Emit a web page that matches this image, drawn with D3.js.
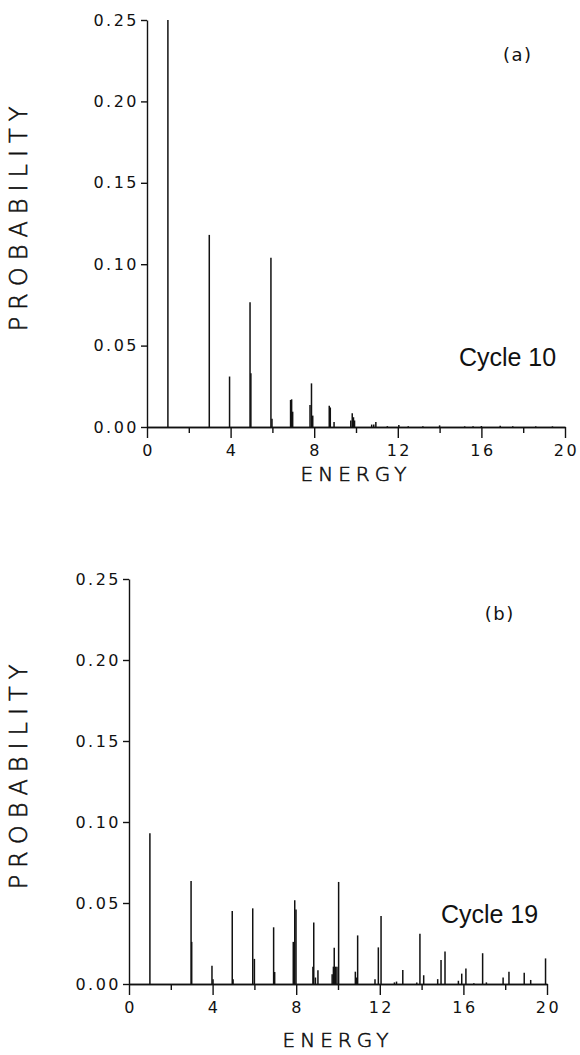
<!DOCTYPE html>
<meta charset="utf-8">
<style>
body { margin: 0; background: #fff; }
svg { display: block; background: #fff; }
.axis path, .axis line { stroke: #111; stroke-width: 1.4px; }
.axis text {
  font-family: "DejaVu Sans", sans-serif;
  font-size: 16px;
  letter-spacing: 2.5px;
  fill: #111;
}
.title {
  font-family: "DejaVu Sans", sans-serif;
  font-weight: 200;
  fill: #111;
  stroke: #111;
  stroke-width: 0.6px;
}
.tag {
  font-family: "DejaVu Sans", sans-serif;
  font-size: 18px;
  letter-spacing: 1.5px;
  fill: #111;
}
.cycle {
  font-family: "Liberation Sans", Arial, sans-serif;
  font-size: 25px;
  fill: #111;
}
.bar { stroke: #111; stroke-width: 1.5px; }
</style>
<svg id="chart"></svg>
<script src="https://d3js.org/d3.v7.min.js"></script>
<script>

// cycle 10
let energyA = [1.0, 2.98, 3.95, 4.93, 4.97, 5.93, 5.98, 6.87, 6.92, 6.97, 7.8, 7.87, 7.93,
  8.72, 8.77, 8.95, 9.75, 9.82, 9.88, 9.93, 10.75, 10.85, 10.95, 11.5, 12.05, 12.5,
  13.2, 14.0, 15.2, 15.6, 16.0, 16.9, 17.5, 18.6, 19.4];
let probA = [0.25, 0.118, 0.031, 0.0766, 0.033, 0.104, 0.005, 0.0166, 0.017, 0.0094, 0.0135, 0.0268, 0.007,
  0.013, 0.012, 0.003, 0.004, 0.0084, 0.006, 0.004, 0.0015, 0.0015, 0.003, 0.0005, 0.0012, 0.0005,
  0.0005, 0.001, 0.0004, 0.0004, 0.0006, 0.0008, 0.0004, 0.0004, 0.0004];

// cycle 19
let energyB = [1.0, 2.97, 3.0, 3.97, 4.02, 4.94, 4.98, 5.92, 6.0, 6.92, 6.97, 7.86, 7.93, 7.99,
  8.8, 8.84, 8.92, 9.04, 9.72, 9.78, 9.82, 9.88, 9.95, 10.03, 10.83, 10.88, 10.94,
  11.77, 11.93, 12.06, 12.7, 12.8, 13.1, 13.77, 13.92, 14.1, 14.77, 14.93, 15.12,
  15.76, 15.92, 16.12, 16.5, 16.92, 17.1, 17.9, 18.18, 18.91, 19.22, 19.93];
let probB = [0.093, 0.0636, 0.026, 0.0113, 0.003, 0.045, 0.003, 0.0467, 0.0155, 0.035, 0.0074, 0.026, 0.0517, 0.046,
  0.0107, 0.038, 0.004, 0.0085, 0.006, 0.0107, 0.0224, 0.0107, 0.0107, 0.063, 0.0076, 0.004, 0.030,
  0.003, 0.0226, 0.042, 0.001, 0.0015, 0.0086, 0.001, 0.031, 0.0054, 0.003, 0.0148, 0.020,
  0.002, 0.0064, 0.0095, 0.0005, 0.019, 0.001, 0.004, 0.0076, 0.007, 0.0025, 0.0158];

let majorTicks = [0, 4, 8, 12, 16, 20];
let minorTicks = [2, 6, 10, 14, 18];
let probTicks = [0, 0.05, 0.10, 0.15, 0.20, 0.25];

let svg = d3.select("#chart")
  .attr("width", 580)
  .attr("height", 1055);

let panels = [
  {energy: energyA, prob: probA, left: 147, right: 565, top: 20, bottom: 427, xTitle: 54, tag: "(a)", cycle: "Cycle 10"},
  {energy: energyB, prob: probB, left: 129, right: 547, top: 579, bottom: 984, xTitle: 63, tag: "(b)", cycle: "Cycle 19"}
];

panels.forEach(function(p) {
  let x = d3.scaleLinear().domain([0, 20]).range([p.left, p.right]);
  let y = d3.scaleLinear().domain([0, 0.25]).range([p.bottom, p.top]);
  let g = svg.append("g");

  g.selectAll(".bar")
    .data(p.energy)
    .enter()
    .append("line")
    .attr("class", "bar")
    .attr("x1", function(d) { return x(d); })
    .attr("x2", function(d) { return x(d); })
    .attr("y1", y(0))
    .attr("y2", function(d, i) { return y(p.prob[i]); });

  g.append("g")
    .attr("class", "axis")
    .attr("transform", "translate(0," + y(0) + ")")
    .call(d3.axisBottom(x).tickValues(minorTicks).tickSize(6).tickSizeOuter(0).tickFormat(""));

  let xa = g.append("g")
    .attr("class", "axis")
    .attr("transform", "translate(0," + y(0) + ")")
    .call(d3.axisBottom(x).tickValues(majorTicks).tickSize(11).tickSizeOuter(0).tickFormat(d3.format("d")));
  xa.selectAll("text").attr("dy", "0.95em").attr("dx", "1px");

  let ya = g.append("g")
    .attr("class", "axis")
    .attr("transform", "translate(" + x(0) + ",0)")
    .call(d3.axisLeft(y).tickValues(probTicks).tickSize(6).tickSizeOuter(0).tickFormat(d3.format(".2f")));
  ya.selectAll("text").attr("x", -8);

  g.append("text")
    .attr("class", "title")
    .attr("text-anchor", "middle")
    .style("font-size", "24px")
    .style("letter-spacing", "7px")
    .attr("transform", "translate(27," + ((y(0) + y(0.25)) / 2 - 8) + ") rotate(-90)")
    .text("PROBABILITY");

  g.append("text")
    .attr("class", "title")
    .attr("text-anchor", "middle")
    .style("font-size", "20px")
    .style("letter-spacing", "5px")
    .attr("x", x(10))
    .attr("y", y(0) + p.xTitle)
    .text("ENERGY");

  g.append("text")
    .attr("class", "tag")
    .attr("text-anchor", "middle")
    .attr("x", x(17.74))
    .attr("y", y(0.225))
    .text(p.tag);

  g.append("text")
    .attr("class", "cycle")
    .attr("text-anchor", "middle")
    .attr("x", x(17.25))
    .attr("y", y(0.0375))
    .text(p.cycle);
});

</script>
